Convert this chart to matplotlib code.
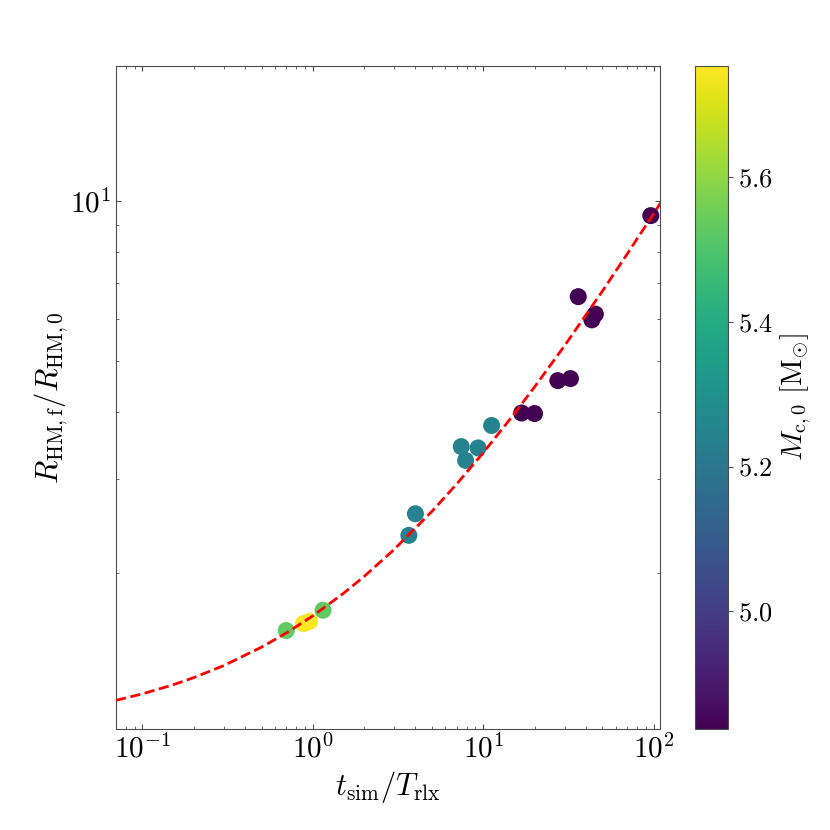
import numpy as np
import matplotlib
matplotlib.use('Agg')
from matplotlib import pyplot as plt

plt.rcParams['font.family'] = 'serif'
plt.rcParams['font.serif'] = ['cmr10']
plt.rcParams['mathtext.fontset'] = 'cm'
plt.rcParams['axes.formatter.use_mathtext'] = True

# simulations: t_sim/T_rlx, R_HM,f/R_HM,0, log10 initial cluster mass
t_ratio = [0.698, 0.882, 0.956, 1.147,
           3.66, 4.00, 7.43, 7.88, 9.33, 11.2,
           16.8, 20.0, 27.4, 32.5, 36.1, 43.4, 45.5, 96.2]
r_ratio = [1.557, 1.605, 1.62, 1.70,
           2.35, 2.58, 3.45, 3.25, 3.43, 3.78,
           3.99, 3.98, 4.59, 4.63, 6.60, 5.97, 6.12, 9.37]
log_mass = [5.53, 5.754, 5.754, 5.53,
            5.24, 5.24, 5.24, 5.24, 5.24, 5.24,
            4.837, 4.837, 4.837, 4.837, 4.837, 4.837, 4.837, 4.837]

# fitted relation
fit_t = [0.07, 0.1, 0.15, 0.2, 0.3, 0.5, 0.7, 1.0, 1.5, 2.0, 3.0, 5.0, 7.0,
         10.0, 15.0, 20.0, 30.0, 50.0, 70.0, 100.0, 110.0]
fit_r = [1.151, 1.184, 1.230, 1.270, 1.338, 1.449, 1.541, 1.659, 1.825, 1.967,
         2.211, 2.607, 2.937, 3.359, 3.954, 4.465, 5.337, 6.757, 7.94, 9.45, 9.91]

fig = plt.figure(figsize=(8.3, 8.3), dpi=100)
ax = fig.add_axes([0.1398, 0.1217, 0.6554, 0.7988])
cax = fig.add_axes([0.8373, 0.1217, 0.0398, 0.7988])

sc = ax.scatter(t_ratio, r_ratio, c=log_mass, cmap='viridis', s=150,
                vmin=4.837, vmax=5.754, edgecolors='none', zorder=2)
ax.plot(fit_t, fit_r, 'r--', lw=2, zorder=3)

ax.set_xscale('log')
ax.set_yscale('log')
ax.set_xlim(0.07, 109)
ax.set_ylim(1.017, 17.9)
ax.tick_params(which='both', direction='in', top=True, right=True,
               labelsize=21, color='0.3')
for s in ax.spines.values():
    s.set_color('0.3')
ax.set_xlabel(r'$t_{\rm sim}/T_{\rm rlx}$', fontsize=22)
ax.set_ylabel(r'$R_{\rm HM,f}/R_{\rm HM,0}$', fontsize=22, labelpad=0)

cb = fig.colorbar(sc, cax=cax)
cb.set_ticks([5.0, 5.2, 5.4, 5.6])
cb.ax.tick_params(labelsize=19, color='0.3')
cb.outline.set_edgecolor('0.3')
cb.set_label(r'$M_{\rm c,0}\ [{\rm M}_{\odot}]$', fontsize=21)

fig.savefig('out.png', dpi=100)
